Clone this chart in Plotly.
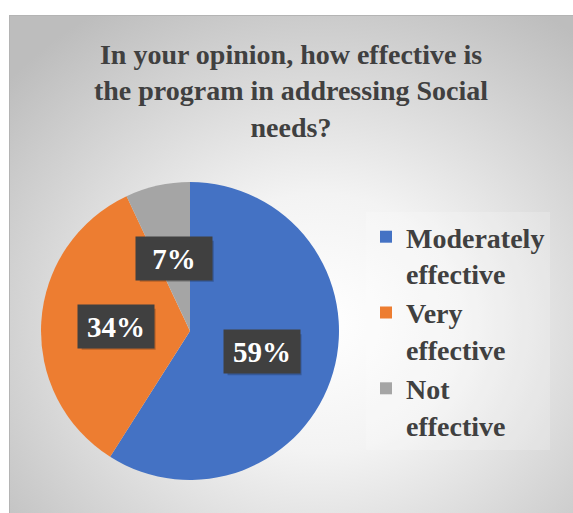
import math
import base64
import plotly.graph_objects as go

# Survey responses
categories = ["Moderately<br>effective", "Very<br>effective", "Not<br>effective"]
shares = [59, 34, 7]
colors = ["#4472C4", "#ED7D31", "#A5A5A5"]

W, H = 573, 513
SERIF = "Liberation Serif"
INK = "#404040"

# Panel background: white surround, framed panel with a soft radial gradient
svg = f"""<svg xmlns='http://www.w3.org/2000/svg' width='{W}' height='{H}' viewBox='0 0 {W} {H}'>
<defs><radialGradient id='g' cx='0.54' cy='0.60' r='0.72'>
<stop offset='0' stop-color='#ffffff'/>
<stop offset='0.35' stop-color='#f3f3f3'/>
<stop offset='1' stop-color='#bdbdbd'/>
</radialGradient></defs>
<rect x='0' y='0' width='{W}' height='{H}' fill='#ffffff'/>
<rect x='9.5' y='15.5' width='{W}' height='{H}' fill='url(#g)' stroke='#b4b4b4' stroke-width='1'/>
</svg>"""
bg_src = "data:image/svg+xml;base64," + base64.b64encode(svg.encode()).decode()

# Pie geometry (pixels)
cx, cy, R = 190, 331, 149
BOX_W, BOX_H = 74, 41


def bold_lines(s):
    return "<br>".join(f"<b>{part}</b>" for part in s.split("<br>"))


fig = go.Figure(go.Pie(
    labels=[bold_lines(c) for c in categories],
    values=shares,
    sort=False,
    direction="clockwise",
    rotation=0,
    marker=dict(colors=colors, line=dict(width=0)),
    textinfo="none",
    hoverinfo="label+percent",
    domain=dict(x=[(cx - R) / W, (cx + R) / W], y=[1 - (cy + R) / H, 1 - (cy - R) / H]),
))

# Percentage labels placed at half radius along each slice's mid-angle
total = sum(shares)
cum = 0
annotations = []
shapes = []
for v in shares:
    mid = (cum + v / 2) / total * 2 * math.pi
    cum += v
    px = cx + 0.5 * R * math.sin(mid)
    py = cy - 0.5 * R * math.cos(mid)
    # soft drop shadow behind the label box
    shapes.append(dict(
        type="rect", xref="paper", yref="paper", layer="above",
        x0=(px - BOX_W / 2 + 3) / W, x1=(px + BOX_W / 2 + 3) / W,
        y0=1 - (py + BOX_H / 2 + 3) / H, y1=1 - (py - BOX_H / 2 + 3) / H,
        fillcolor="rgba(0,0,0,0.22)", line=dict(width=0),
    ))
    annotations.append(dict(
        x=px / W, y=1 - py / H, xref="paper", yref="paper",
        xanchor="center", yanchor="middle",
        text=f"<b>{round(v / total * 100)}%</b>", showarrow=False,
        width=BOX_W, height=BOX_H,
        bgcolor="#404040",
        font=dict(family=SERIF, size=29, color="#ffffff"),
    ))

fig.update_layout(
    width=W, height=H,
    margin=dict(l=0, r=0, t=0, b=0),
    paper_bgcolor="#ffffff",
    plot_bgcolor="rgba(0,0,0,0)",
    images=[dict(source=bg_src, xref="paper", yref="paper", x=0, y=1,
                 sizex=1, sizey=1, xanchor="left", yanchor="top",
                 sizing="stretch", layer="below")],
    title=dict(
        text="<b>In your opinion, how effective is<br>the program in addressing Social<br>needs?</b>",
        x=291 / W, xanchor="center", y=1 - 64 / H, yanchor="top",
        font=dict(family=SERIF, size=28, color=INK),
    ),
    legend=dict(
        x=366 / W, xanchor="left", y=1 - 212 / H, yanchor="top",
        bgcolor="rgba(255,255,255,0.2)",
        font=dict(family=SERIF, size=28, color=INK),
        itemwidth=30,
        valign="top",
    ),
    shapes=shapes,
    annotations=annotations,
)

fig.write_html("out.html")
